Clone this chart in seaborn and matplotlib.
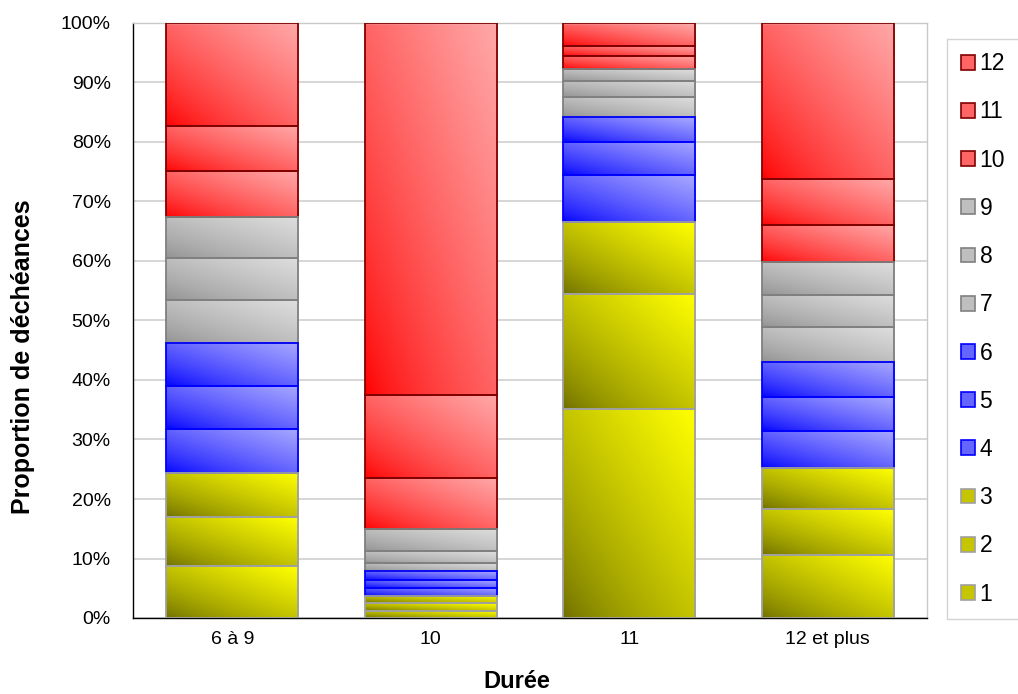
import numpy as np
import pandas as pd
import matplotlib
matplotlib.use("Agg")
import matplotlib.pyplot as plt
import seaborn as sns
from matplotlib.patches import Patch
from matplotlib.ticker import PercentFormatter, FixedLocator

# Share of lapses (%) by rank, for each contract duration
durees = ["6 à 9", "10", "11", "12 et plus"]
rangs = [str(i) for i in range(1, 13)]
part_6_9 = [8.7, 8.2, 7.4, 7.4, 7.3, 7.3, 7.1, 7.1, 6.9, 7.7, 7.6, 17.3]
part_10 = [1.2, 1.3, 1.2, 1.4, 1.3, 1.5, 1.4, 2.0, 3.7, 8.6, 13.9, 62.5]
part_11 = [35.1, 19.4, 12.1, 7.8, 5.6, 4.2, 3.4, 2.7, 1.9, 2.2, 1.8, 3.8]
part_12p = [10.6, 7.7, 6.9, 6.3, 5.7, 5.9, 5.8, 5.4, 5.5, 6.3, 7.6, 26.3]

# colour families: (dark corner, light corner, edge)
rouge = ((255, 0, 0), (255, 168, 168), "#800000")
gris = ((145, 145, 145), (222, 222, 222), "#808080")
bleu = ((0, 0, 255), (168, 168, 255), "#0000FF")
jaune = ((110, 110, 0), (255, 255, 0), "#A0A0A0")
familles = [jaune] * 3 + [bleu] * 3 + [gris] * 3 + [rouge] * 3

rows = []
for d, parts in zip(durees, [part_6_9, part_10, part_11, part_12p]):
    cum = np.cumsum(parts)
    for r, p, c in zip(rangs, parts, cum):
        rows.append({"Durée": d, "Rang": r, "Part": p / 100, "Cumul": c / 100})
df = pd.DataFrame(rows)

sns.set_theme(style="white")
plt.rcParams["font.family"] = ["Liberation Sans", "DejaVu Sans"]
plt.rcParams["text.color"] = "black"
plt.rcParams["axes.labelcolor"] = "black"

fig = plt.figure(figsize=(10.18, 6.94), dpi=100)
ax = fig.add_axes([133 / 1018, 76 / 694, 794 / 1018, 595 / 694])


def gradient(dark, light, n=64):
    u = np.linspace(0, 1, n)[None, :]
    v = np.linspace(0, 1, n)[:, None]
    t = ((u + v) / 2) ** 0.75
    d = np.array(dark, float) / 255
    l = np.array(light, float) / 255
    return d[None, None, :] * (1 - t[..., None]) + l[None, None, :] * t[..., None]


# draw the stacked totals from the top rank down, then reshape each bar to its own segment
for i in reversed(range(len(rangs))):
    r = rangs[i]
    dark, light, edge = familles[i]
    sub = df[df["Rang"] == r]
    sns.barplot(data=sub, x="Durée", y="Cumul", order=durees, color="white",
                width=0.665, ax=ax, errorbar=None, zorder=3)
    cont = ax.containers[-1]
    img = gradient(dark, light)
    for patch, (_, row) in zip(cont.patches, sub.set_index("Durée").loc[durees].iterrows()):
        bottom = row["Cumul"] - row["Part"]
        patch.set_y(bottom)
        patch.set_height(row["Part"])
        patch.set_facecolor("none")
        patch.set_edgecolor(edge)
        patch.set_linewidth(1.3)
        x0 = patch.get_x()
        x1 = x0 + patch.get_width()
        ax.imshow(img, extent=(x0, x1, bottom, row["Cumul"]), origin="lower",
                  aspect="auto", interpolation="bilinear", zorder=2)

ax.set_xlim(-0.5, 3.5)
ax.set_ylim(0, 1)
ax.yaxis.set_major_locator(FixedLocator(np.arange(0, 1.01, 0.1)))
ax.yaxis.set_major_formatter(PercentFormatter(1.0, decimals=0))
ax.yaxis.grid(True, color="#D0D0D0", lw=1.2)
ax.set_axisbelow(True)

ax.set_xticks(range(len(durees)))
ax.set_xticklabels(durees)
ax.set_xticks(np.arange(-0.5, 3.6, 1), minor=True)
ax.tick_params(axis="x", which="major", length=0, labelsize=14, pad=9.5, colors="black")
ax.tick_params(axis="x", which="minor", length=6, width=1, direction="out", color="black")
ax.tick_params(axis="y", length=6, width=1, direction="out", labelsize=14, colors="black", pad=10)

for s in ["left", "bottom"]:
    ax.spines[s].set_color("black")
    ax.spines[s].set_linewidth(1)
for s in ["top", "right"]:
    ax.spines[s].set_color("#C8C8C8")
    ax.spines[s].set_linewidth(1)

ax.set_xlabel("Durée", fontsize=17, fontweight="bold", va="center")
ax.xaxis.set_label_coords((517 - 133) / 794, (694 - 681 - 76) / 595)
ax.set_ylabel("Proportion de déchéances", fontsize=18, fontweight="bold", va="center")
ax.yaxis.set_label_coords((23 - 133) / 794, 0.44)

handles = []
for i in reversed(range(len(rangs))):
    dark, light, edge = familles[i]
    mid = tuple((np.array(dark) * 0.4 + np.array(light) * 0.6) / 255)
    handles.append(Patch(facecolor=mid, edgecolor=edge, linewidth=1.2, label=rangs[i]))

leg = fig.legend(handles=handles, loc="upper left", bbox_to_anchor=(947 / 1018, 1 - 38.5 / 694),
                 bbox_transform=fig.transFigure, fontsize=16.5, frameon=True, fancybox=False,
                 edgecolor="#C8C8C8", handlelength=0.62, handleheight=0.62, handletextpad=0.2,
                 labelspacing=1.10, borderpad=0.6, borderaxespad=0)
leg.get_frame().set_linewidth(1)

fig.savefig("out.png", dpi=100)
